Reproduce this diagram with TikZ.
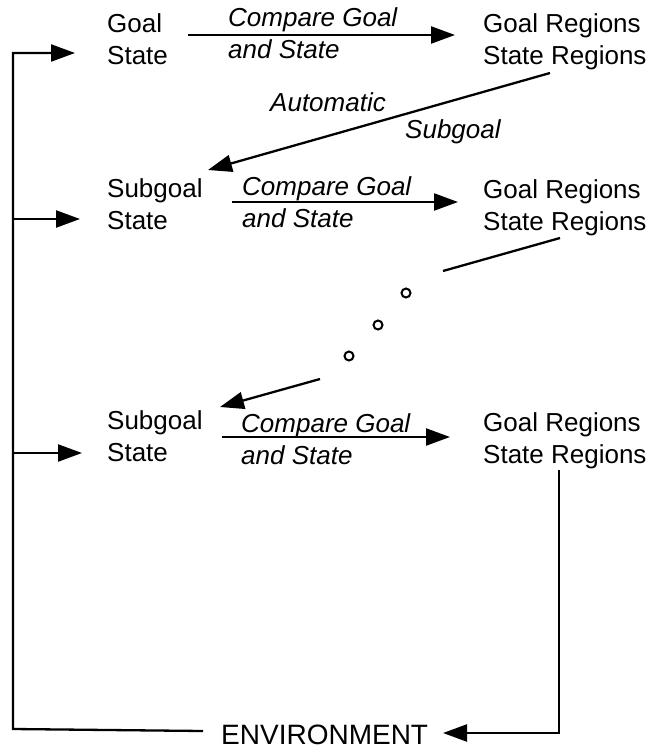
\documentclass[tikz,border=0pt]{standalone}
\usepackage{fontspec}
\setmainfont{Liberation Sans}
\usetikzlibrary{arrows.meta}
\begin{document}
\begin{tikzpicture}[x=1pt,y=-1pt,
  % multi-line labels are placed by the baseline of their last line
  lbl/.style={anchor=base west, inner sep=0pt, align=left,
    font=\fontsize{26}{32}\selectfont},
  ital/.style={lbl, font=\fontsize{26}{32}\selectfont\itshape},
  ln/.style={line width=2.3pt, line join=miter},
  arr/.style={ln, -{Triangle[length=24pt,width=17pt]}},
  dot/.style={circle, draw, line width=2pt, minimum size=9pt, inner sep=0pt}]
\useasboundingbox (0,0) rectangle (659,749);

% first stage
\node[lbl]  (goal1) at (107,65)  {Goal\\State};
\node[ital] (cmp1)  at (228,59)  {Compare Goal\\and State};
\node[lbl]  (reg1)  at (483,65)  {Goal Regions\\State Regions};
\node[ital] (autoa) at (270,112) {Automatic};
\node[ital] (autob) at (405,139) {Subgoal};

% second stage
\node[lbl]  (sub2)  at (107,229) {Subgoal\\State};
\node[ital] (cmp2)  at (242,227) {Compare Goal\\and State};
\node[lbl]  (reg2)  at (483,230) {Goal Regions\\State Regions};

% ellipsis between the stages
\node[dot] (d1) at (406,293) {};
\node[dot] (d2) at (378,325) {};
\node[dot] (d3) at (349,356) {};

% last stage
\node[lbl]  (sub3)  at (107,461) {Subgoal\\State};
\node[ital] (cmp3)  at (241,464) {Compare Goal\\and State};
\node[lbl]  (reg3)  at (483,463) {Goal Regions\\State Regions};

\node[lbl, font=\fontsize{28}{32}\selectfont] (env) at (221,744) {ENVIRONMENT};

% connector end points
\coordinate (c1s) at (188,35);  \coordinate (c1e) at (455,35);
\coordinate (c2s) at (232,202); \coordinate (c2e) at (458,202);
\coordinate (c3s) at (222,437); \coordinate (c3e) at (450,437);
\coordinate (a1s) at (550,73);  \coordinate (a1e) at (208,170);
\coordinate (a2s) at (560,238); \coordinate (a2e) at (443,271);
\coordinate (a3s) at (320,379); \coordinate (a3e) at (220,407);
\coordinate (rtop) at (559,470); \coordinate (rbot) at (559,733);
\coordinate (envR) at (443,733);
\coordinate (envL) at (203,731);
\coordinate (lbot) at (13,729); \coordinate (ltop) at (13,53);
\coordinate (in1) at (75,53);
\coordinate (l2) at (13,219);   \coordinate (in2) at (80,219);
\coordinate (l3) at (13,453);   \coordinate (in3) at (82,453);

% comparisons
\draw[arr] (c1s) -- (c1e);
\draw[arr] (c2s) -- (c2e);
\draw[arr] (c3s) -- (c3e);

% automatic subgoaling
\draw[arr] (a1s) -- (a1e);
\draw[ln]  (a2s) -- (a2e);
\draw[arr] (a3s) -- (a3e);

% feedback through the environment
\draw[arr] (rtop) -- (rbot) -- (envR);
\draw[arr] (envL) -- (lbot) -- (ltop) -- (in1);
\draw[arr] (l2) -- (in2);
\draw[arr] (l3) -- (in3);
\end{tikzpicture}
\end{document}
